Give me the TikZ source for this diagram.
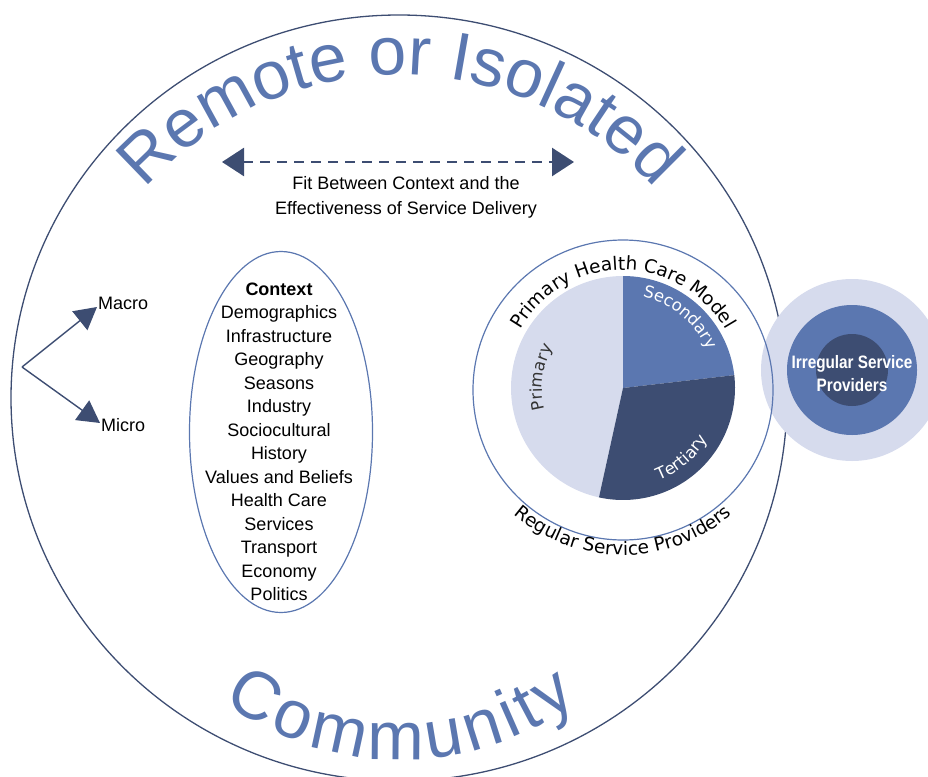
\documentclass[tikz,border=0pt]{standalone}
\usepackage{fontspec}
\setmainfont{Liberation Sans}
\newfontfamily\pieFont{DejaVu Sans}
\newfontfamily\condFont[FakeStretch=0.85]{Liberation Sans}
\usepackage{xcolor}
\usetikzlibrary{positioning,arrows.meta,decorations.text,shapes.geometric}
\definecolor{lightblue}{HTML}{D6DBED}
\definecolor{midblue}{HTML}{5B77B0}
\definecolor{darkblue}{HTML}{3D4D72}
\newcommand{\bigFont}{\fontsize{68}{70}\selectfont\color{midblue}}
\newcommand{\ringFont}{\pieFont\fontsize{18.5}{20}\selectfont}
\newcommand{\sliceFont}{\pieFont\fontsize{16.5}{20}\selectfont}

\begin{document}
\begin{tikzpicture}[x=1pt,y=1pt,
  arclabel/.style={decorate,decoration={text along path,text align=center,text={#1}}},
  listtext/.style={align=center,font=\fontsize{18}{23.5}\selectfont},
  branch/.style={darkblue,line width=1.4pt,-{Triangle[length=22pt,width=24pt]}}]
\useasboundingbox (0,0) rectangle (928,-776);

% Community circle
\draw[darkblue,line width=1.3pt] (399,-398) ellipse[x radius=388,y radius=383];
\coordinate (top) at (400,-417);
\coordinate (bot) at (400,-463);
\path[arclabel={|\bigFont|Remote or Isolated}] ([shift={(160:342)}]top) arc[start angle=160,end angle=20,radius=342];
\path[arclabel={|\bigFont|{C\kern4.5pt}{o\kern4.5pt}{m\kern4.5pt}{m\kern4.5pt}{u\kern4.5pt}{n\kern4.5pt}{i\kern4.5pt}{t\kern4.5pt}y}] ([shift={(220:297)}]bot) arc[start angle=220,end angle=320,radius=297];

% Fit arrow
\coordinate (fitL) at (222,-162);
\coordinate (fitR) at (574,-162);
\draw[darkblue,line width=2.6pt,dash pattern=on 10pt off 7pt,
  {Triangle[length=22pt,width=28pt]}-{Triangle[length=22pt,width=28pt]}] (fitL) -- (fitR);
\node[align=center,font=\fontsize{18}{25}\selectfont] (fit) at (406,-197) {Fit Between Context and the\\Effectiveness of Service Delivery};

% Macro / Micro
\coordinate (fork) at (22,-367);
\node[anchor=west,inner sep=1pt,font=\fontsize{18}{20}\selectfont] (macro) at (97,-303) {Macro};
\node[anchor=west,inner sep=1pt,font=\fontsize{18}{20}\selectfont] (micro) at (100,-425) {Micro};
\draw[branch] (fork) -- ([yshift=-4pt]macro.west);
\draw[branch] (fork) -- ([yshift=2pt]micro.west);

% Context
\node[ellipse,draw=midblue,line width=1.2pt,minimum width=183pt,minimum height=361pt] (ctxshape) at (281,-432) {};
\node[listtext] (ctx) at (279,-442) {\textbf{Context}\\Demographics\\Infrastructure\\Geography\\Seasons\\Industry\\Sociocultural\\History\\Values and Beliefs\\Health Care\\Services\\Transport\\Economy\\Politics};

% Irregular service providers
\node[circle,fill=lightblue,minimum size=182pt,inner sep=0pt] (irrOuter) at (852,-370) {};
\node[circle,fill=midblue,minimum size=130pt,inner sep=0pt] (irrMid) at (852,-370) {};
\node[circle,fill=darkblue,minimum size=72pt,inner sep=0pt] (irrCore) at (852,-370) {};
\node[text=white,align=center,font=\condFont\bfseries\fontsize{18}{23}\selectfont] (irr) at (852,-374) {Irregular Service\\Providers};

% Regular service providers / PHC model
\coordinate (pc) at (623,-388);
\node[circle,draw=midblue,line width=1.2pt,minimum size=300pt,inner sep=0pt] (regular) at (623,-390) {};
\fill[lightblue] (pc) -- ++(90:112) arc[start angle=90,end angle=257.6,radius=112] -- cycle;
\fill[midblue] (pc) -- ++(6.6:112) arc[start angle=6.6,end angle=90,radius=112] -- cycle;
\fill[darkblue] (pc) -- ++(-102.4:112) arc[start angle=-102.4,end angle=6.6,radius=112] -- cycle;
\path[arclabel={|\ringFont|Primary Health Care Model}] ([shift={(170:118)}]pc) arc[start angle=170,end angle=10,radius=118];
\path[arclabel={|\ringFont|Regular Service Providers}] ([shift={(210:167)}]pc) arc[start angle=210,end angle=330,radius=167];
\path[arclabel={|\sliceFont\color{white}|Secondary}] ([shift={(92:93)}]pc) arc[start angle=92,end angle=10,radius=93];
\path[arclabel={|\sliceFont\color{white}|Tertiary}] ([shift={(-100:99)}]pc) arc[start angle=-100,end angle=0,radius=99];
\path[arclabel={|\sliceFont\color{black!80}|Primary}] ([shift={(209:81)}]pc) arc[start angle=209,end angle=136,radius=81];
\end{tikzpicture}
\end{document}
